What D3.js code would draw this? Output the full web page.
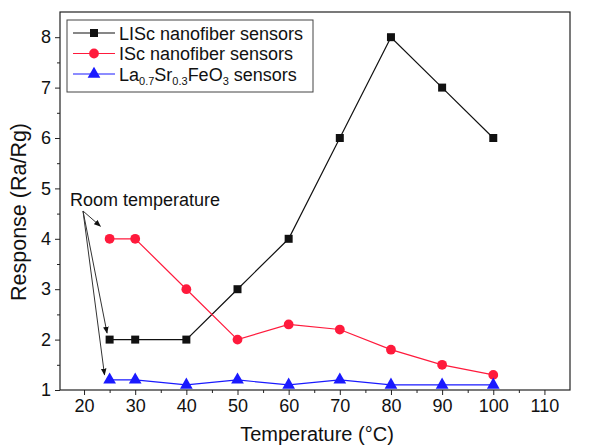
<!DOCTYPE html>
<html>
<head>
<meta charset="utf-8">
<script src="https://cdn.jsdelivr.net/npm/d3@7"></script>
<style>
  body { margin: 0; background: #fff; }
  svg { font-family: Arial, "Liberation Sans", sans-serif; }
</style>
</head>
<body>
<div id="chart"></div>
<script>
const temps = [25, 30, 40, 50, 60, 70, 80, 90, 100];
const lisc = [2, 2, 2, 3, 4, 6, 8, 7, 6];
const isc = [4, 4, 3, 2, 2.3, 2.2, 1.8, 1.5, 1.3];
const lsfo = [1.2, 1.2, 1.1, 1.2, 1.1, 1.2, 1.1, 1.1, 1.1];
const xTicks = [20, 30, 40, 50, 60, 70, 80, 90, 100, 110];
const yTicks = [1, 2, 3, 4, 5, 6, 7, 8];

const width = 589, height = 446;
const margin = { top: 12, right: 19, bottom: 56, left: 60 };
const w = width - margin.left - margin.right;
const h = height - margin.top - margin.bottom;

const svg = d3.select('#chart')
  .append('svg')
  .attr('width', width)
  .attr('height', height);

const g = svg.append('g')
  .attr('transform', `translate(${margin.left},${margin.top})`);

const x = d3.scaleLinear().domain([15.3, 115]).range([0, w]);
const y = d3.scaleLinear().domain([1, 8.5]).range([h, 0]);

// frame
g.append('rect')
  .attr('width', w).attr('height', h)
  .attr('fill', 'none').attr('stroke', '#222').attr('stroke-width', 1.2);

// minor ticks
g.append('g')
  .attr('transform', `translate(0,${h})`)
  .call(d3.axisBottom(x).tickValues(d3.range(25, 115, 10)).tickSize(3).tickFormat(''))
  .call(s => s.select('.domain').remove());
g.append('g')
  .call(d3.axisLeft(y).tickValues(d3.range(1.5, 8.5, 1)).tickSize(3).tickFormat(''))
  .call(s => s.select('.domain').remove());

// major axes
const xAxis = g.append('g')
  .attr('transform', `translate(0,${h})`)
  .call(d3.axisBottom(x).tickValues(xTicks).tickSize(5).tickPadding(4));
const yAxis = g.append('g')
  .call(d3.axisLeft(y).tickValues(yTicks).tickSize(5).tickPadding(4));

[xAxis, yAxis].forEach(a => {
  a.select('.domain').remove();
  a.selectAll('text').attr('font-size', 18).attr('fill', '#111')
    .attr('font-family', 'Arial, "Liberation Sans", sans-serif');
});
g.selectAll('.tick line').attr('stroke', '#222');

// axis titles
svg.append('text')
  .attr('x', 317).attr('y', 441)
  .attr('text-anchor', 'middle').attr('font-size', 20).attr('fill', '#111')
  .text('Temperature (°C)');
svg.append('text')
  .attr('transform', `translate(26,212) rotate(-90)`)
  .attr('text-anchor', 'middle').attr('font-size', 21.5).attr('fill', '#111')
  .text('Response (Ra/Rg)');

const series = [
  { name: 'LISc', vals: lisc, color: '#111', shape: d3.symbolSquare, size: 64 },
  { name: 'ISc', vals: isc, color: '#ff1a3c', shape: d3.symbolCircle, size: 75 },
  { name: 'LSFO', vals: lsfo, color: '#1a1aff', shape: d3.symbolTriangle, size: 70 }
];

const line = d3.line().x(d => x(d[0])).y(d => y(d[1]));

series.forEach(s => {
  const pts = temps.map((t, i) => [t, s.vals[i]]);
  g.append('path')
    .datum(pts)
    .attr('fill', 'none').attr('stroke', s.color).attr('stroke-width', 1.2)
    .attr('d', line);
  g.selectAll(null)
    .data(pts)
    .enter()
    .append('path')
    .attr('transform', d => `translate(${x(d[0])},${y(d[1])})`)
    .attr('d', d3.symbol(s.shape, s.size))
    .attr('fill', s.color);
});

// room temperature annotation
svg.append('defs').append('marker')
  .attr('id', 'arr').attr('viewBox', '0 0 10 10')
  .attr('refX', 9).attr('refY', 5)
  .attr('markerWidth', 7).attr('markerHeight', 7)
  .attr('orient', 'auto')
  .append('path').attr('d', 'M0,1 L10,5 L0,9 Z').attr('fill', '#111');

g.append('text')
  .attr('x', 10).attr('y', 194)
  .attr('font-size', 18).attr('fill', '#111')
  .text('Room temperature');

const ax0 = 23, ay0 = 199;
const arrowTargets = [[23.2, 4.25], [24.5, 2.13], [24, 1.3]];
arrowTargets.forEach(t => {
  g.append('line')
    .attr('x1', ax0).attr('y1', ay0)
    .attr('x2', x(t[0])).attr('y2', y(t[1]))
    .attr('stroke', '#333').attr('stroke-width', 1)
    .attr('marker-end', 'url(#arr)');
});

// legend
const leg = g.append('g').attr('transform', 'translate(7,8)');
leg.append('rect')
  .attr('width', 246).attr('height', 72)
  .attr('fill', '#fff').attr('stroke', '#444').attr('stroke-width', 1);

const legendLabels = ['LISc nanofiber sensors', 'ISc nanofiber sensors', null];
series.forEach((s, i) => {
  const ly = 13 + i * 20.5;
  leg.append('line')
    .attr('x1', 6).attr('x2', 48).attr('y1', ly).attr('y2', ly)
    .attr('stroke', s.color).attr('stroke-width', 1.2);
  leg.append('path')
    .attr('transform', `translate(27,${ly})`)
    .attr('d', d3.symbol(s.shape, s.size))
    .attr('fill', s.color);
  const t = leg.append('text')
    .attr('x', 52).attr('y', ly + 6.5)
    .attr('font-size', 18).attr('fill', '#111');
  if (legendLabels[i]) {
    t.text(legendLabels[i]);
  } else {
    t.append('tspan').text('La');
    t.append('tspan').attr('font-size', 11).attr('dy', 4).text('0.7');
    t.append('tspan').attr('dy', -4).text('Sr');
    t.append('tspan').attr('font-size', 11).attr('dy', 4).text('0.3');
    t.append('tspan').attr('dy', -4).text('FeO');
    t.append('tspan').attr('font-size', 11).attr('dy', 4).text('3');
    t.append('tspan').attr('dy', -4).text(' sensors');
  }
});
</script>
</body>
</html>
